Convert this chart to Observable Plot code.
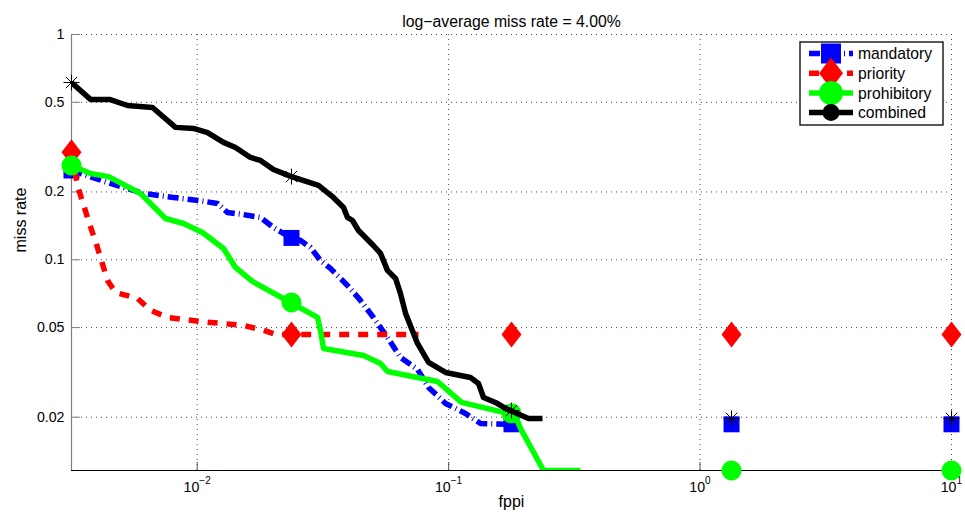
<!DOCTYPE html>
<html><head><meta charset="utf-8">
<script src="https://cdn.jsdelivr.net/npm/d3@7"></script>
<script src="https://cdn.jsdelivr.net/npm/@observablehq/plot@0.6"></script>
<style>body{margin:0;background:#fff;} #chart{width:965px;height:522px;}</style>
</head><body><div id="chart"></div>
<script>
const title = "log−average miss rate = 4.00%";
const xLabel = "fppi";
const yLabel = "miss rate";
const seriesNames = ["mandatory", "priority", "prohibitory", "combined"];
const seriesColors = ["#0000ff", "#ff0000", "#00ff00", "#000000"];
const xDomain = [0.0031623, 10];
const yDomain = [0.0116, 1];
const xTicks = [0.01, 0.1, 1, 10];
const xTickExponents = ["−2", "−1", "0", "1"];
const yTicks = [0.02, 0.05, 0.1, 0.2, 0.5, 1];
const markerFppi = [0.003162, 0.02371, 0.1778, 1.334, 10];

const mandatoryFppi = [0.003162, 0.003434, 0.00452, 0.00612, 0.00805, 0.01012, 0.01204, 0.01319, 0.01514, 0.01785, 0.0201, 0.0235, 0.02575, 0.02822, 0.03092, 0.03389, 0.0396, 0.0446, 0.0502, 0.0571, 0.0643, 0.0752, 0.0832, 0.0972, 0.1167, 0.1339, 0.1762];
const mandatoryMiss = [0.249, 0.2415, 0.2182, 0.1969, 0.189, 0.1833, 0.1778, 0.1622, 0.1589, 0.1541, 0.1391, 0.1256, 0.1218, 0.1134, 0.0993, 0.0915, 0.0769, 0.0660, 0.05545, 0.0452, 0.03685, 0.0326, 0.02712, 0.02302, 0.02078, 0.01877, 0.01858];
const mandatoryMarkers = [0.249, 0.125, 0.0186, 0.0186, 0.0186];

const priorityFppi = [0.003162, 0.00334, 0.00366, 0.00401, 0.0044, 0.00473, 0.00579, 0.00652, 0.00762, 0.01031, 0.01528, 0.01835, 0.02048, 0.0759];
const priorityMiss = [0.30, 0.2137, 0.1541, 0.1134, 0.0809, 0.0716, 0.0673, 0.0596, 0.05545, 0.0532, 0.0511, 0.0486, 0.0466, 0.0466];
const priorityMarkers = [0.30, 0.0466, 0.0466, 0.0466, 0.0466];

const prohibitoryFppi = [0.003162, 0.003763, 0.00444, 0.00595, 0.00748, 0.00882, 0.01049, 0.01272, 0.0142, 0.01585, 0.01659, 0.0235, 0.0301, 0.0309, 0.0318, 0.0459, 0.0536, 0.0571, 0.0903, 0.1125, 0.1652, 0.1845, 0.1931, 0.2384, 0.3345];
const prohibitoryMiss = [0.262, 0.2415, 0.234, 0.1969, 0.1525, 0.1449, 0.1322, 0.1122, 0.0924, 0.0835, 0.0801, 0.0646, 0.05545, 0.0486, 0.0404, 0.0376, 0.03465, 0.0319, 0.0288, 0.02326, 0.0210, 0.02016, 0.01784, 0.0116, 0.0116];
const prohibitoryMarkers = [0.262, 0.0646, 0.0208, 0.0116, 0.0116];

const combinedFppi = [0.003162, 0.003763, 0.00448, 0.00528, 0.00664, 0.0082, 0.00967, 0.01099, 0.01272, 0.0142, 0.01628, 0.01785, 0.0201, 0.02371, 0.03036, 0.0348, 0.0382, 0.0396, 0.04145, 0.0438, 0.0502, 0.0536, 0.0571, 0.0615, 0.0643, 0.0674, 0.0725, 0.0752, 0.0832, 0.0972, 0.1221, 0.1314, 0.1376, 0.1536, 0.1683, 0.2077, 0.2362];
const combinedMiss = [0.612, 0.515, 0.515, 0.484, 0.474, 0.387, 0.383, 0.367, 0.332, 0.315, 0.2845, 0.276, 0.2516, 0.234, 0.2137, 0.189, 0.1707, 0.1541, 0.1494, 0.1349, 0.1157, 0.1067, 0.0897, 0.0826, 0.0709, 0.0578, 0.0471, 0.0425, 0.0350, 0.0316, 0.0300, 0.02825, 0.02447, 0.02326, 0.02188, 0.01975, 0.01975];
const combinedMarkers = [0.612, 0.234, 0.0214, 0.01975, 0.01975];

// custom MATLAB-like symbols (size = pi r^2)
const rad = s => Math.sqrt(s / Math.PI);
const symSquare = {draw(c, s) { const r = rad(s); c.moveTo(-r, -r); c.lineTo(r, -r); c.lineTo(r, r); c.lineTo(-r, r); c.closePath(); }};
const symDiamond = {draw(c, s) { const r = rad(s); c.moveTo(0, -1.3 * r); c.lineTo(r, 0); c.lineTo(0, 1.3 * r); c.lineTo(-r, 0); c.closePath(); }};
const symCircle = {draw(c, s) { const r = rad(s); c.moveTo(r, 0); c.arc(0, 0, r, 0, 2 * Math.PI); }};
const symStar = {draw(c, s) { const r = rad(s), d = r * 0.7071; c.moveTo(-r, 0); c.lineTo(r, 0); c.moveTo(0, -r); c.lineTo(0, r); c.moveTo(-d, -d); c.lineTo(d, d); c.moveTo(-d, d); c.lineTo(d, -d); }};

const series = [
  {name: seriesNames[0], color: seriesColors[0], fppi: mandatoryFppi, miss: mandatoryMiss, markers: mandatoryMarkers, dash: "11,4,1,4", sym: symSquare, r: 8, star: false},
  {name: seriesNames[1], color: seriesColors[1], fppi: priorityFppi, miss: priorityMiss, markers: priorityMarkers, dash: "10,9", sym: symDiamond, r: 10, star: false},
  {name: seriesNames[2], color: seriesColors[2], fppi: prohibitoryFppi, miss: prohibitoryMiss, markers: prohibitoryMarkers, dash: null, sym: symCircle, r: 10, star: false},
  {name: seriesNames[3], color: seriesColors[3], fppi: combinedFppi, miss: combinedMiss, markers: combinedMarkers, dash: null, sym: symStar, r: 8, star: true}
];

const font = "'Liberation Sans', Arial, Helvetica, sans-serif";
const tickData = xTicks.map((v, i) => ({v, exp: xTickExponents[i]}));
const negTicks = tickData.filter(d => d.v < 1);
const posTicks = tickData.filter(d => d.v >= 1);

const marks = [
  Plot.gridX(xTicks, {stroke: "#444", strokeOpacity: 1, strokeDasharray: "1,4", strokeWidth: 1}),
  Plot.gridY(yTicks, {stroke: "#444", strokeOpacity: 1, strokeDasharray: "1,4", strokeWidth: 1}),
  Plot.ruleX([xDomain[0]], {stroke: "#808080", strokeWidth: 1.2}),
  Plot.ruleY([yDomain[0]], {stroke: "#000", strokeWidth: 1.2}),
  Plot.axisY(yTicks, {anchor: "left", tickSize: 0, tickPadding: 7, tickFormat: d => String(d), fontSize: 14.2, label: null, fill: "#000"}),
  Plot.axisY(yTicks, {anchor: "left", tickSize: -9, fill: "none", label: null, stroke: "#808080"}),
  Plot.axisX(xTicks, {anchor: "bottom", tickSize: -8, fill: "none", label: null, stroke: "#555"}),
  Plot.text(negTicks, {x: "v", text: () => "10", frameAnchor: "bottom", dy: 21, dx: 2.1, textAnchor: "end", fontSize: 14.2, fill: "#000"}),
  Plot.text(negTicks, {x: "v", text: "exp", frameAnchor: "bottom", dy: 13.8, dx: 2.1, textAnchor: "start", fontSize: 10, fill: "#000"}),
  Plot.text(posTicks, {x: "v", text: () => "10", frameAnchor: "bottom", dy: 21, dx: 5, textAnchor: "end", fontSize: 14.2, fill: "#000"}),
  Plot.text(posTicks, {x: "v", text: "exp", frameAnchor: "bottom", dy: 13.8, dx: 5, textAnchor: "start", fontSize: 10, fill: "#000"}),
  Plot.text([title], {frameAnchor: "top", dy: -18.5, fontSize: 15.8, fill: "#000"}),
  Plot.text([xLabel], {frameAnchor: "bottom", dy: 36, fontSize: 16, fill: "#000"}),
  Plot.text([yLabel], {frameAnchor: "left", dx: -51, rotate: -90, fontSize: 16, fill: "#000"})
];

for (const s of series) {
  const idx = d3.range(s.fppi.length);
  marks.push(Plot.line(idx, {x: i => s.fppi[i], y: i => s.miss[i], stroke: s.color, strokeWidth: 5.5, strokeDasharray: s.dash, strokeLinecap: "butt", strokeLinejoin: "round", clip: true}));
  const m = markerFppi.map((x, i) => ({x, y: s.markers[i]}));
  if (s.star) {
    marks.push(Plot.dot(m, {x: "x", y: "y", symbol: s.sym, r: s.r, fill: "none", stroke: s.color, strokeWidth: 1}));
  } else {
    marks.push(Plot.dot(m, {x: "x", y: "y", symbol: s.sym, r: s.r, fill: s.color, stroke: "none"}));
  }
}

const plot = Plot.plot({
  width: 965, height: 522,
  marginLeft: 71, marginRight: 14, marginTop: 34, marginBottom: 52,
  x: {type: "log", domain: xDomain},
  y: {type: "log", domain: yDomain},
  style: {fontFamily: font, background: "#fff", color: "#000"},
  marks
});

// legend
const svg = d3.select(plot);
const lg = svg.append("g").attr("font-family", font).attr("text-anchor", "start");
lg.append("rect").attr("x", 800).attr("y", 42).attr("width", 143).attr("height", 83)
  .attr("fill", "#fff").attr("stroke", "#000").attr("stroke-width", 1.3);
const legendSyms = [[symSquare, 10], [symDiamond, 12], [symCircle, 12], [symCircle, 8.5]];
series.forEach((s, i) => {
  const cy = 53.5 + i * 19.7;
  lg.append("line").attr("x1", 809).attr("x2", 853).attr("y1", cy).attr("y2", cy)
    .attr("stroke", s.color).attr("stroke-width", 5.5).attr("stroke-dasharray", s.dash);
  const [sym, r] = legendSyms[i];
  lg.append("path").attr("transform", `translate(831,${cy})`)
    .attr("d", d3.symbol(sym, r * r * Math.PI)()).attr("fill", s.color);
  lg.append("text").attr("x", 858).attr("y", cy + 5.7).attr("font-size", 15.7)
    .attr("text-anchor", "start").attr("fill", "#000").text(s.name);
});

document.getElementById("chart").appendChild(plot);
</script>
</body></html>
